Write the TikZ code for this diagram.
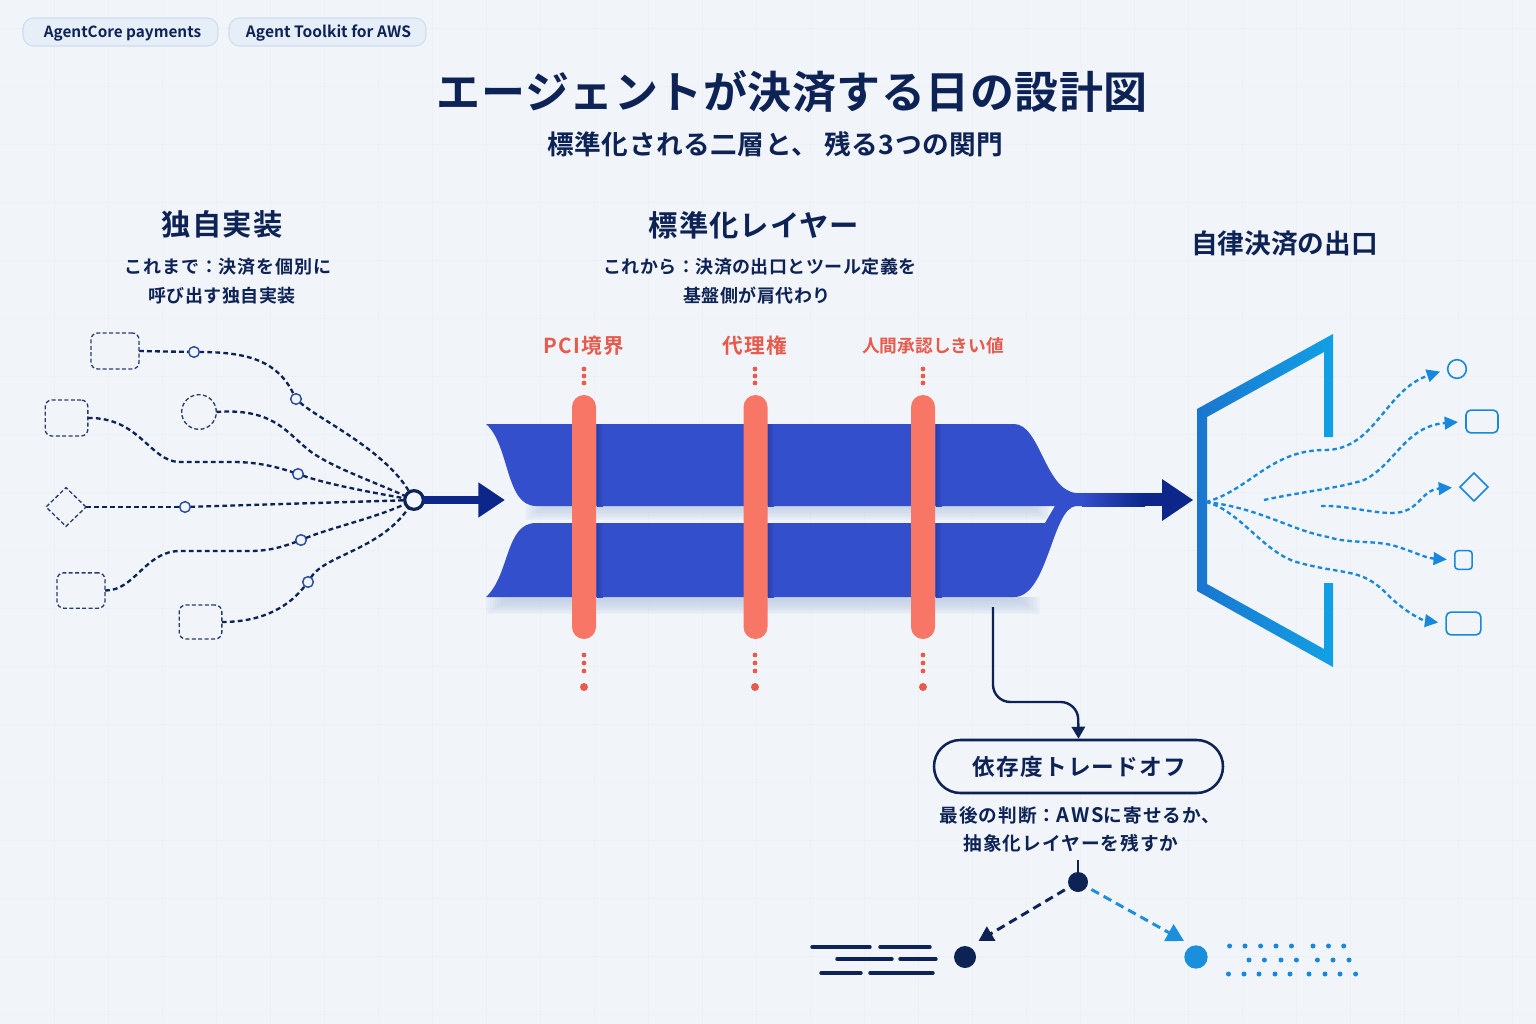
\documentclass[tikz,border=0pt]{standalone}
\usepackage{fontspec}
\usetikzlibrary{arrows.meta,shapes.geometric,backgrounds}
\newfontfamily\jpb{Noto Sans CJK JP Bold}
\definecolor{bgc}{HTML}{F1F5F9}
\definecolor{gridc}{HTML}{ECF1F6}
\definecolor{navy}{HTML}{0E2355}
\definecolor{deep}{HTML}{0D2689}
\definecolor{band}{HTML}{344FCC}
\definecolor{bandd}{HTML}{2840AE}
\definecolor{shad}{HTML}{B9C8E4}
\definecolor{coral}{HTML}{F87666}
\definecolor{redt}{HTML}{E85A4C}
\definecolor{sky}{HTML}{1888DC}
\definecolor{ringc}{HTML}{2B4FA0}
\definecolor{dashb}{HTML}{2A3A70}
\definecolor{tagl}{HTML}{CFDDEF}
\definecolor{tagf}{HTML}{E6EEF7}
\definecolor{gatel}{HTML}{1A76D0}
\definecolor{gater}{HTML}{12A0E4}
\definecolor{skyb}{HTML}{1A90DC}
\newcommand{\fs}[1]{\fontsize{#1}{#1}\selectfont}
\newcommand{\softshadow}[4]{% x1,x2,y1,y2
  \foreach \i in {0,...,9}
    \fill[shad,opacity=.11] ({#1+\i*2.2},#3) rectangle ({#2-\i*2.2},{#4-\i*1.5});
}
\tikzset{
  txt/.style={inner sep=0pt,outer sep=0pt,text=navy,align=center},
  tagbox/.style={draw=tagl,fill=tagf,line width=.8pt,rounded corners=8pt,inner sep=0pt,minimum height=21pt,text=navy,text height=10.4pt,text depth=2pt},
  srcline/.style={draw=dashb,line width=1pt,dash pattern=on 3pt off 1.8pt,fill=bgc,inner sep=0pt,outer sep=0pt},
  srcbox/.style={srcline,rounded corners=5pt},
  flow/.style={draw=navy,line width=1.75pt,dash pattern=on 3.6pt off 2.4pt},
  ring/.style={circle,draw=ringc,line width=1.1pt,fill=bgc,minimum size=8pt,inner sep=0pt,outer sep=0pt},
  outflow/.style={draw=sky,line width=1.75pt,dash pattern=on 3.4pt off 2.4pt,shorten >=6pt,-{Triangle[length=10pt,width=9.5pt,sep=0pt]}},
  outshape/.style={draw=sky,line width=1.2pt,fill=bgc,inner sep=0pt,outer sep=0pt},
  barbox/.style={fill=coral,rounded corners=9pt,minimum width=18pt,minimum height=183pt,inner sep=0pt},
  redlab/.style={inner sep=0pt,text=redt,font=\jpb\fs{15.5}\addfontfeatures{LetterSpace=6}},
  dotm/.style={fill=redt},
}
\begin{document}
\begin{tikzpicture}[x=0.75pt,y=-0.75pt]
\useasboundingbox (0,0) rectangle (1536,1024);
% background and faint grid
\begin{scope}[on background layer]
\fill[bgc] (0,0) rectangle (1536,1024);
\foreach \g in {1,...,28} \draw[gridc,line width=.5pt] ({\g*54},0) -- ({\g*54},1024);
\foreach \g in {0,...,18} \draw[gridc,line width=.5pt] (0,{28+\g*58}) -- (1536,{28+\g*58});
\end{scope}

% tags
\node[tagbox,minimum width=146.25pt,font=\jpb\fs{11.5}] (tag1) at (120.5,32) {\hspace*{3pt}AgentCore payments};
\node[tagbox,minimum width=147.75pt,font=\jpb\fs{11.7}] (tag2) at (327.5,32) {\hspace*{1.5pt}Agent Toolkit for AWS};

% titles
\node[txt,font=\jpb\fs{33}\addfontfeatures{LetterSpace=1.2}] (title) at (792.5,92) {エージェントが決済する日の設計図};
\node[txt,font=\jpb\fs{20}\addfontfeatures{LetterSpace=2}] (subtitle) at (775.5,144) {標準化される二層と、 残る3つの関門};

\node[txt,font=\jpb\fs{22}\addfontfeatures{LetterSpace=4}] (h1) at (222,224) {独自実装};
\node[txt,font=\jpb\fs{13.5}\addfontfeatures{LetterSpace=5}] (h1a) at (228,267) {これまで：決済を個別に};
\node[txt,font=\jpb\fs{13.5}\addfontfeatures{LetterSpace=3}] (h1b) at (222,296) {呼び出す独自実装};
\node[txt,font=\jpb\fs{22}\addfontfeatures{LetterSpace=3.5}] (h2) at (754,225) {標準化レイヤー};
\node[txt,font=\jpb\fs{13.5}\addfontfeatures{LetterSpace=2.5}] (h2a) at (760,267) {これから：決済の出口とツール定義を};
\node[txt,font=\jpb\fs{13.5}\addfontfeatures{LetterSpace=3}] (h2b) at (757,296) {基盤側が肩代わり};
\node[txt,font=\jpb\fs{20}] (h3) at (1284.5,243) {自律決済の出口};

% left sources
\node[srcbox,minimum width=36pt,minimum height=27pt] (a) at (115,351) {};
\node[srcbox,minimum width=32pt,minimum height=27pt] (b) at (66.5,418) {};
\node[srcline,circle,minimum size=26pt] (c) at (199,412) {};
\node[srcline,diamond,minimum width=30pt,minimum height=29pt] (d) at (66,507) {};
\node[srcbox,minimum width=36pt,minimum height=26.5pt] (e) at (81,590.5) {};
\node[srcbox,minimum width=32pt,minimum height=25.5pt] (f) at (200.5,622) {};
\node[ring] (a1) at (194,352) {};
\node[ring] (a2) at (296,399) {};
\node[ring] (b1) at (298,474) {};
\node[ring] (d1) at (185,507) {};
\node[ring] (e1) at (301,540) {};
\node[ring] (f1) at (308,582) {};
\node[circle,draw=navy,line width=2.4pt,fill=bgc,minimum size=14pt,inner sep=0pt,outer sep=0pt] (hub) at (414,500) {};
\coordinate (hubtip) at (505,500);
\begin{scope}[on background layer]
\draw[flow] (a.east) -- (a1);
\draw[flow] (a1) .. controls (250,352) and (278,362) .. (a2);
\draw[flow] (a2) .. controls (320,420) and (385,450) .. (hub);
\draw[flow] (c.east) .. controls (270,408) and (285,430) .. (305,447) .. controls (325,465) and (370,480) .. (hub);
\draw[flow] (b.east) .. controls (140,417) and (150,462) .. (180,462) -- (233,462) .. controls (260,462) and (280,468) .. (b1);
\draw[flow] (b1) .. controls (330,485) and (375,493) .. (hub);
\draw[flow] (d.east) -- (d1);
\draw[flow] (d1) -- (hub);
\draw[flow] (e.east) .. controls (135,591) and (145,551) .. (180,551) -- (250,551) .. controls (270,551) and (285,546) .. (e1);
\draw[flow] (e1) .. controls (330,528) and (375,518) .. (hub);
\draw[flow] (f.east) .. controls (265,622) and (290,605) .. (f1);
\draw[flow] (f1) .. controls (325,555) and (380,550) .. (hub);
\end{scope}
\draw[deep,line width=6.6pt,-{Triangle[length=20pt,width=25pt,sep=0pt]}] (hub) -- (hubtip);

% band shadows
\softshadow{525}{1050}{506}{520}
\softshadow{486}{1040}{597}{614}
% bands (one merged shape)
\fill[band] (486,424) -- (1014,424)
  .. controls (1040,424) and (1045,490) .. (1076,493)
  -- (1090,493) -- (1090,506) -- (1076,506)
  .. controls (1052,508) and (1048,597) .. (1014,597)
  -- (486,597)
  .. controls (510,575) and (505,523) .. (536,523)
  -- (1045,523) -- (1055,506) -- (536,506)
  .. controls (505,506) and (510,445) .. (486,424) -- cycle;
% output arrow
\fill[left color=band,right color=deep] (1082,493) rectangle (1145,506);
\fill[deep] (1145,493) rectangle (1163,506);
\coordinate (gatein) at (1193,500);
\fill[deep] (1162,479) -- (gatein) -- (1162,521) -- cycle;

% dark stripes beside the gates
\foreach \sx in {597,768,936} {
  \fill[left color=bandd,right color=band] (\sx,424) rectangle (\sx+6,506);
  \fill[left color=bandd,right color=band] (\sx,523) rectangle (\sx+6,597);
}
% gates
\node[barbox] (bar1) at (584,517) {};
\node[barbox] (bar2) at (755.5,517) {};
\node[barbox] (bar3) at (923,517) {};
\node[redlab] (r1) at (584,345.5) {PCI境界};
\node[redlab] (r2) at (755,345.5) {代理権};
\node[redlab,font=\jpb\fs{13.3}] (r3) at (933,345.5) {人間承認しきい値};
\foreach \cx in {584,755,923} {
  \foreach \cy in {369,376,383,655,663,671} \fill[dotm] (\cx,\cy) circle[radius=2.4];
  \fill[dotm] (\cx,687) circle[radius=4];
}

% portal
\path[left color=gatel,right color=gater] (1333,334) -- (1197,409) -- (1197,591) -- (1333,667) -- (1333,583) -- (1324,583) -- (1324,649) -- (1207,584) -- (1207,417) -- (1324,352) -- (1324,437) -- (1333,437) -- cycle;

% outputs
\coordinate (fan) at (1206,502);
\node[outshape,circle,minimum size=14pt] (t1) at (1457,369) {};
\node[outshape,rounded corners=3.5pt,minimum width=24pt,minimum height=17pt] (t2) at (1482,421.5) {};
\node[outshape,diamond,minimum width=21pt,minimum height=21pt] (t3) at (1474,487) {};
\node[outshape,rounded corners=2.5pt,minimum width=13pt,minimum height=14pt] (t4) at (1463.5,560) {};
\node[outshape,rounded corners=3.5pt,minimum width=26pt,minimum height=17pt] (t5) at (1463.5,623.5) {};
\coordinate (s2) at (1264,500);
\coordinate (s3) at (1321,506);
\draw[outflow] (fan) .. controls (1250,490) and (1270,450) .. (1325,450) .. controls (1375,450) and (1385,390) .. (t1.west);
\draw[outflow] (s2) .. controls (1300,492) and (1340,488) .. (1364,480) .. controls (1395,465) and (1405,426) .. (t2.west);
\draw[outflow] (s3) .. controls (1345,505) and (1370,513) .. (1392,513) .. controls (1420,513) and (1420,490) .. (t3.west);
\draw[outflow] (fan) .. controls (1260,508) and (1290,530) .. (1328,537) .. controls (1350,544) and (1375,540) .. (1395,546) .. controls (1415,552) and (1425,558) .. (t4.west);
\draw[outflow] (fan) .. controls (1240,510) and (1265,555) .. (1300,563) .. controls (1345,575) and (1360,568) .. (1385,592) .. controls (1400,608) and (1420,620) .. (t5.west);

% trade-off
\node[draw=navy,line width=1.9pt,fill=bgc,rounded corners=19.8pt,minimum width=216.75pt,minimum height=39.75pt,inner sep=0pt,text=navy,font=\jpb\fs{17}\addfontfeatures{LetterSpace=5}] (pill) at (1078.5,766.5) {\hspace*{1.5pt}依存度トレードオフ};
\coordinate (bandm) at (993,607);
\draw[navy,line width=1.8pt,rounded corners=13pt,-{Triangle[length=9pt,width=10pt,sep=0pt]}] (bandm) -- (993,702) -- (1078,702) -- (pill.north);
\node[txt,font=\jpb\fs{14}\addfontfeatures{LetterSpace=5.5}] (q1) at (1080,815) {最後の判断：{\fs{15}\addfontfeatures{LetterSpace=9}AWS}に寄せるか、};
\node[txt,font=\jpb\fs{14}\addfontfeatures{LetterSpace=5.5}] (q2) at (1071,843) {抽象化レイヤーを残すか};

\node[circle,fill=navy,minimum size=15pt,inner sep=0pt,outer sep=0pt] (dt) at (1078,882) {};
\node[circle,fill=navy,minimum size=16.5pt,inner sep=0pt] (dl) at (965,957) {};
\node[circle,fill=skyb,minimum size=17.5pt,inner sep=0pt] (dr) at (1196,957) {};
\coordinate (stem) at (1078,860);
\coordinate (la) at (978.5,941);
\coordinate (ra) at (1184,941);
\draw[navy,line width=2pt] (stem) -- (dt);
\draw[navy,line width=2.2pt,dash pattern=on 6.5pt off 4pt,shorten <=4pt,-{Triangle[length=11pt,width=12pt,sep=0pt]}] (dt) -- (la);
\draw[skyb,line width=2.2pt,dash pattern=on 6.5pt off 4pt,shorten <=4pt,-{Triangle[length=13pt,width=14pt,sep=0pt]}] (dt) -- (ra);

% line texture
\foreach \xa/\xb/\yy in {812/870/947,880/930/947,837/892/959,900/936/959,821/861/973,870/933/973}
  \draw[navy,line width=2.6pt,line cap=round] (\xa,\yy) -- (\xb,\yy);
% dot texture
\foreach \xx in {1229.6,1245,1260.6,1276,1291.5,1313,1328.5,1343.7} \fill[sky] (\xx,946) circle[radius=2.5];
\foreach \xx in {1249,1264.4,1281,1296.4,1317.4,1333,1349} \fill[sky] (\xx,960) circle[radius=2.5];
\foreach \xx in {1228.5,1244,1259,1275,1290,1309,1325,1340,1355.6} \fill[sky] (\xx,974) circle[radius=2.5];
\end{tikzpicture}
\end{document}
